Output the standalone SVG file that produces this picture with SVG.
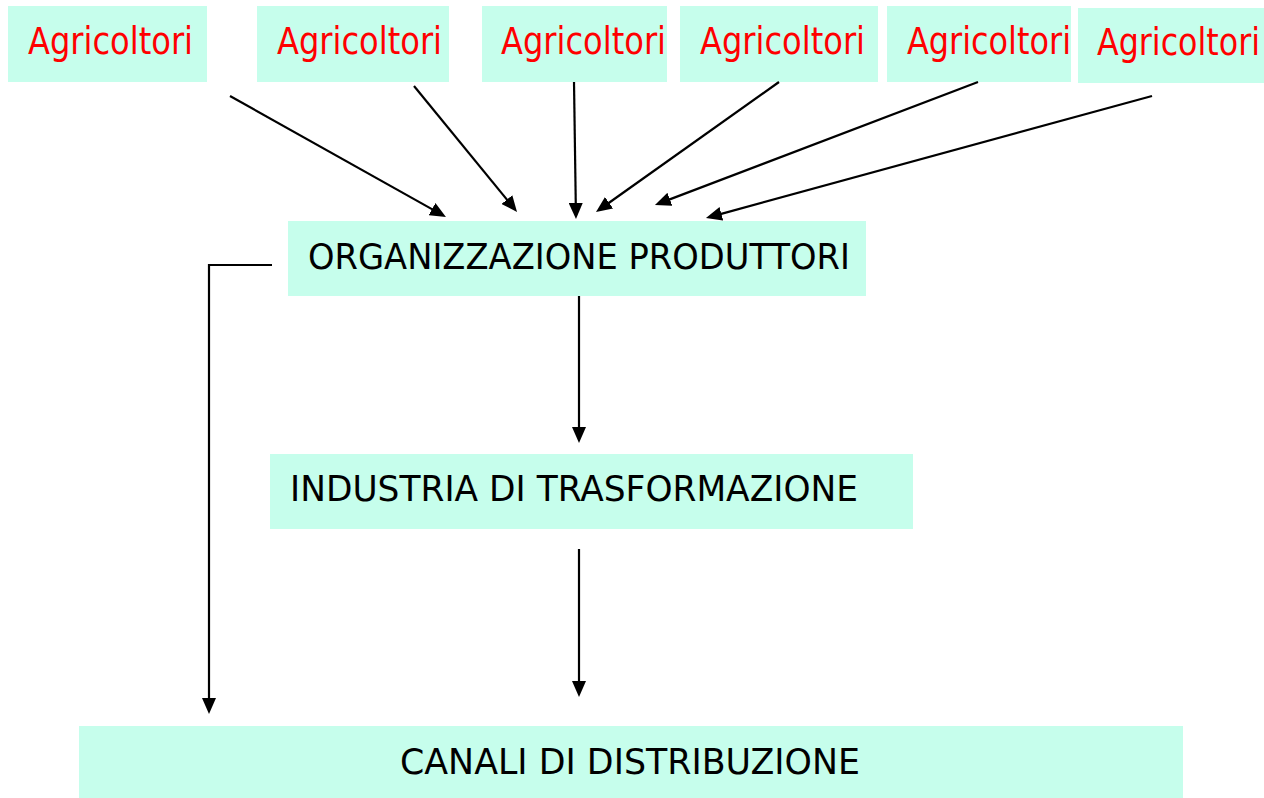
<svg xmlns="http://www.w3.org/2000/svg" width="1264" height="798" viewBox="0 0 1264 798">
<style>
.box{fill:#C6FEEC}
.agr{font-family:"DejaVu Sans","Liberation Sans",sans-serif;font-size:37px;fill:#FF0000}
.lbl{font-family:"DejaVu Sans","Liberation Sans",sans-serif;font-size:36px;fill:#000}
.con{stroke:#000;stroke-width:2.2;fill:none;marker-end:url(#ah)}
</style>
<defs>
<marker id="ah" markerUnits="userSpaceOnUse" markerWidth="16" markerHeight="14" refX="3" refY="7" orient="auto">
<path d="M0,0 L16,7 L0,14 z" fill="#000"/>
</marker>
</defs>
<rect width="1264" height="798" fill="#fff"/>
<g id="agr1"><rect class="box" x="8" y="6" width="199" height="76"/><text class="agr" x="28" y="54" textLength="165" lengthAdjust="spacingAndGlyphs">Agricoltori</text></g>
<g id="agr2"><rect class="box" x="257" y="6" width="192" height="76"/><text class="agr" x="277" y="54" textLength="165" lengthAdjust="spacingAndGlyphs">Agricoltori</text></g>
<g id="agr3"><rect class="box" x="482" y="6" width="185" height="76"/><text class="agr" x="501" y="54" textLength="165" lengthAdjust="spacingAndGlyphs">Agricoltori</text></g>
<g id="agr4"><rect class="box" x="680" y="6" width="198" height="76"/><text class="agr" x="700" y="54" textLength="165" lengthAdjust="spacingAndGlyphs">Agricoltori</text></g>
<g id="agr5"><rect class="box" x="887" y="6" width="184" height="76"/><text class="agr" x="907" y="54" textLength="164" lengthAdjust="spacingAndGlyphs">Agricoltori</text></g>
<g id="agr6"><rect class="box" x="1078" y="8" width="186" height="75"/><text class="agr" x="1097" y="55" textLength="163" lengthAdjust="spacingAndGlyphs">Agricoltori</text></g>
<g id="org"><rect class="box" x="288" y="221" width="578" height="75"/><text class="lbl" x="308" y="269" textLength="542" lengthAdjust="spacingAndGlyphs">ORGANIZZAZIONE PRODUTTORI</text></g>
<g id="ind"><rect class="box" x="270" y="454" width="643" height="75"/><text class="lbl" x="290" y="501" textLength="568" lengthAdjust="spacingAndGlyphs">INDUSTRIA DI TRASFORMAZIONE</text></g>
<g id="can"><rect class="box" x="79" y="726" width="1104" height="72"/><text class="lbl" x="400" y="774" textLength="460" lengthAdjust="spacingAndGlyphs">CANALI DI DISTRIBUZIONE</text></g>
<g id="connectors">
<line class="con" x1="230" y1="96" x2="434.6" y2="210.6"/>
<line class="con" x1="414" y1="86" x2="508.8" y2="201.9"/>
<line class="con" x1="574" y1="82" x2="575.8" y2="206"/>
<line class="con" x1="779" y1="82" x2="606.6" y2="204.5"/>
<line class="con" x1="978" y1="82" x2="667.1" y2="200.4"/>
<line class="con" x1="1152" y1="96" x2="718.5" y2="214.6"/>
<line class="con" x1="579" y1="296" x2="579" y2="430"/>
<line class="con" x1="579" y1="549" x2="579" y2="684"/>
<path class="con" d="M272,265 H209 V701"/>
</g>
</svg>
